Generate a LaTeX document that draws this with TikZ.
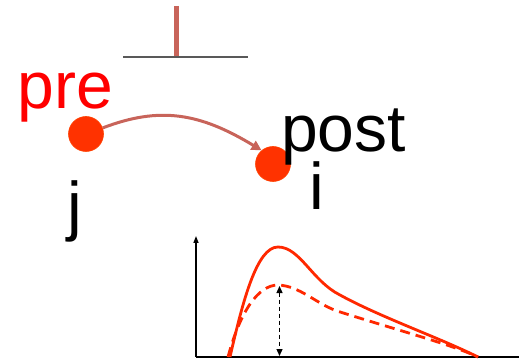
\documentclass[tikz,border=0pt]{standalone}
\usepackage{fontspec}
\setmainfont{Liberation Sans}
\usetikzlibrary{arrows.meta}
\definecolor{salmon}{RGB}{200,100,90}
\definecolor{dotred}{RGB}{255,50,0}
\definecolor{curvered}{RGB}{255,40,0}
\tikzset{
  lbl/.style={font=\fontsize{66}{66}\selectfont, inner sep=0pt, anchor=base west},
  neuron/.style={circle, fill=dotred, draw=dotred!80!orange, line width=0.6pt, minimum size=35pt, inner sep=0pt},
  axis/.style={line width=1.3pt, black},
  epsp/.style={line width=2.8pt, curvered, line join=round},
}
\begin{document}
\begin{tikzpicture}[x=1pt,y=-1pt]
\useasboundingbox (0,0) rectangle (519,363);
% input bar
\coordinate (barL) at (123,57);
\coordinate (barR) at (248,57);
\coordinate (barT) at (176,6);
\coordinate (barB) at (176,57);
\draw[line width=5pt, salmon] (barT) -- (barB);
\draw[line width=1.5pt, black!65] (barL) -- (barR);
% neurons
\node[neuron] (pre) at (86,134) {};
\node[neuron] (post) at (273,164) {};
\draw[salmon, line width=3pt, -{Triangle[length=10pt,width=10pt]}]
  (pre.20) .. controls (160,106) and (200,113) .. (post.130);
% labels
\node[lbl, text=red] (tpre) at (17.5,108.5) {pre};
\node[lbl] (tpost) at (281,151.5) {post};
\node[lbl] (ti) at (309,210) {i};
\node[lbl] (tj) at (67,229) {j};
% graph
\coordinate (O) at (196,357);
\coordinate (Ytop) at (196,236);
\coordinate (Xend) at (519,357);
\draw[axis, -{Triangle[length=7pt,width=5pt]}] (O) -- (Ytop);
\draw[axis] (O) -- (Xend);
\draw[epsp] (230,357) .. controls (243,300) and (257,247) .. (278,247)
  .. controls (300,247) and (312,281) .. (340,295)
  .. controls (380,317) and (440,338) .. (478,357);
\draw[epsp, dash pattern=on 10pt off 6pt] (228,357) .. controls (240,312) and (258,285) .. (278,285)
  .. controls (300,286) and (315,303) .. (337,311)
  .. controls (400,331) and (450,344) .. (478,357);
\coordinate (pk) at (279.5,286);
\coordinate (pb) at (279.5,356);
\draw[black, line width=1.3pt, dash pattern=on 4pt off 3pt, {Triangle[length=7pt,width=6pt]}-{Triangle[length=7pt,width=6pt]}] (pk) -- (pb);
\end{tikzpicture}
\end{document}
